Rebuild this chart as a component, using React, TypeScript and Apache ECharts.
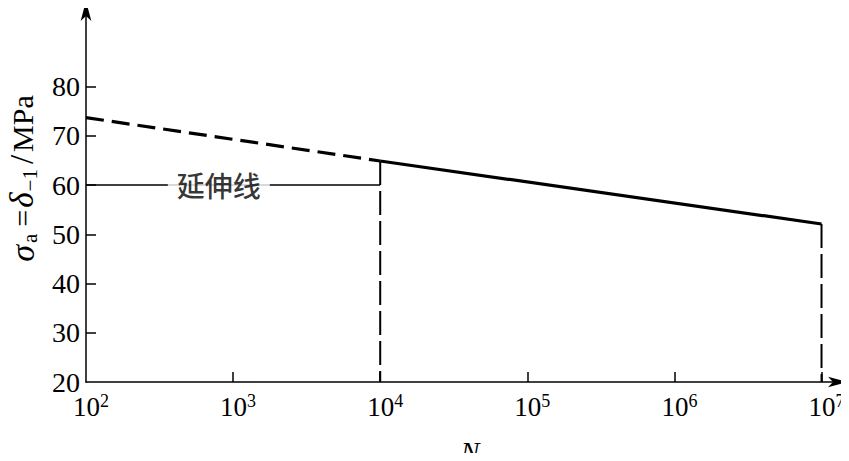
import React, { useEffect, useRef } from "react";
import * as echarts from "echarts";

// Exponents of the decade ticks on the N axis (10^2 ... 10^7)
const decadeExps = [2, 3, 4, 5, 6, 7];
const decadeTickExps = [3, 4, 5, 6, 7];
// Stress tick labels (MPa)
const stressLabels = [20, 30, 40, 50, 60, 70, 80];
const stressTicks = [30, 40, 50, 60, 70, 80];

// Extrapolated (dashed) part of the S-N line
const extrapN = [100, 10000];
const extrapS = [73.7, 64.9];
// Measured (solid) part of the S-N line
const fitN = [10000, 10000000];
const fitS = [64.9, 52.1];
// Reference ("延伸线") horizontal line
const refN = [100, 10000];
const refS = [60, 60];
const refLabel = "延伸线";
const refLabelN = 800;
// Vertical drop lines
const dropN = [10000, 10000000];
const dropTopS = [64.9, 52.1];

const Y_MIN = 20;
const Y_MAX = 97.4;
const X_MIN = 2;
const X_MAX = 7.18;

const serif = "Liberation Serif";

export default function App() {
  const ref = useRef<HTMLDivElement>(null);
  useEffect(() => {
    if (!ref.current) return;
    const chart = echarts.init(ref.current, undefined, { renderer: "svg" });
    const lg = (n: number) => Math.log10(n);
    const pairs = (ns: number[], ss: number[]) => ns.map((n, i) => [lg(n), ss[i]]);

    const dropSeries = dropN.map((n, i) => ({
      type: "line",
      data: [
        [lg(n), dropTopS[i]],
        [lg(n), Y_MIN],
      ],
      symbol: "none",
      lineStyle: { color: "#000", width: 2, type: [24, 6] },
      z: 3,
    }));

    const axisLine = {
      show: true,
      symbol: ["none", "arrow"],
      symbolSize: [8, 20],
      lineStyle: { color: "#000", width: 1.5 },
    };

    chart.setOption({
      animation: false,
      backgroundColor: "#fff",
      textStyle: { fontFamily: serif, color: "#000" },
      grid: { left: 86, right: 1, top: 1, bottom: 79, containLabel: false, outerBoundsMode: "none" },
      xAxis: [
        {
          type: "value",
          min: X_MIN,
          max: X_MAX,
          interval: 1,
          splitLine: { show: false },
          axisLine,
          axisTick: { show: false },
          axisLabel: {
            showMinLabel: true,
            margin: 10,
            fontFamily: serif,
            fontSize: 27,
            color: "#000",
            formatter: (v: number) =>
              decadeExps.includes(Math.round(v * 1000) / 1000) ? "{p|}{b|10}{u|" + v + "}" : "",
            rich: {
              p: { width: 10 },
              b: { fontFamily: serif, fontSize: 27, color: "#000", lineHeight: 30 },
              u: { fontFamily: serif, fontSize: 18, color: "#000", verticalAlign: "top", lineHeight: 18 },
            },
          },
          name: "N",
          nameLocation: "middle",
          nameGap: 55,
          nameTextStyle: {
            fontFamily: serif,
            fontStyle: "italic",
            fontSize: 28,
            color: "#000",
            padding: [0, 0, 0, 6],
          },
        },
        {
          type: "value",
          position: "bottom",
          min: X_MIN,
          max: X_MAX,
          splitLine: { show: false },
          axisLine: { show: false },
          axisLabel: { show: false },
          axisTick: {
            show: true,
            inside: true,
            length: 10,
            customValues: decadeTickExps,
            lineStyle: { color: "#000", width: 1.5 },
          },
        },
      ],
      yAxis: [
        {
          type: "value",
          min: Y_MIN,
          max: Y_MAX,
          interval: 10,
          splitLine: { show: false },
          axisLine,
          axisTick: { show: false },
          axisLabel: {
            showMinLabel: true,
            margin: 6,
            fontFamily: serif,
            fontSize: 28,
            color: "#000",
            formatter: (v: number) => (stressLabels.includes(v) ? String(v) : ""),
          },
          name: "{i|σ}{a|a}{e|=}{d|δ}{m|−1}{l|/}{n|MPa}",
          nameLocation: "middle",
          nameRotate: 90,
          nameGap: 46,
          nameTextStyle: {
            fontFamily: serif,
            fontSize: 30,
            color: "#000",
            padding: [0, 0, 0, 26],
            rich: {
              i: { fontFamily: serif, fontSize: 34, fontStyle: "italic", color: "#000", lineHeight: 36, padding: [0, 1, 0, 0] },
              a: { fontFamily: serif, fontSize: 21, color: "#000", lineHeight: 16, verticalAlign: "bottom", padding: [0, 5, 0, 1] },
              e: { fontFamily: serif, fontSize: 30, color: "#000", lineHeight: 36, padding: [0, 2, 0, 2] },
              d: { fontFamily: serif, fontSize: 33, fontStyle: "italic", color: "#000", lineHeight: 36 },
              m: { fontFamily: serif, fontSize: 21, color: "#000", lineHeight: 16, verticalAlign: "bottom", padding: [0, 2, 0, 1] },
              l: { fontFamily: serif, fontSize: 33, color: "#000", lineHeight: 36, padding: [0, 3, 0, 3] },
              n: { fontFamily: serif, fontSize: 30, color: "#000", lineHeight: 36 },
            },
          },
        },
        {
          type: "value",
          position: "left",
          min: Y_MIN,
          max: Y_MAX,
          splitLine: { show: false },
          axisLine: { show: false },
          axisLabel: { show: false },
          axisTick: {
            show: true,
            inside: true,
            length: 10,
            customValues: stressTicks,
            lineStyle: { color: "#000", width: 1.5 },
          },
        },
      ],
      series: [
        {
          type: "line",
          data: pairs(extrapN, extrapS),
          symbol: "none",
          lineStyle: { color: "#000", width: 3.2, type: [18, 8] },
          z: 4,
        },
        {
          type: "line",
          data: pairs(fitN, fitS),
          symbol: "none",
          lineStyle: { color: "#000", width: 3.2, type: "solid" },
          z: 4,
        },
        {
          type: "line",
          data: pairs(refN, refS),
          symbol: "none",
          lineStyle: { color: "#000", width: 1.5 },
          z: 3,
        },
        ...dropSeries,
        {
          type: "scatter",
          data: [[lg(refLabelN), refS[0]]],
          symbolSize: 0,
          z: 6,
          label: {
            show: true,
            position: "inside",
            formatter: refLabel,
            fontFamily: "Noto Sans CJK SC",
            fontSize: 28,
            fontWeight: 500,
            color: "#000",
            backgroundColor: "#fff",
            padding: [2, 9],
          },
        },
      ],
    });
    return () => chart.dispose();
  }, []);
  return <div ref={ref} style={{ width: 849, height: 461, margin: -8 }} />;
}
